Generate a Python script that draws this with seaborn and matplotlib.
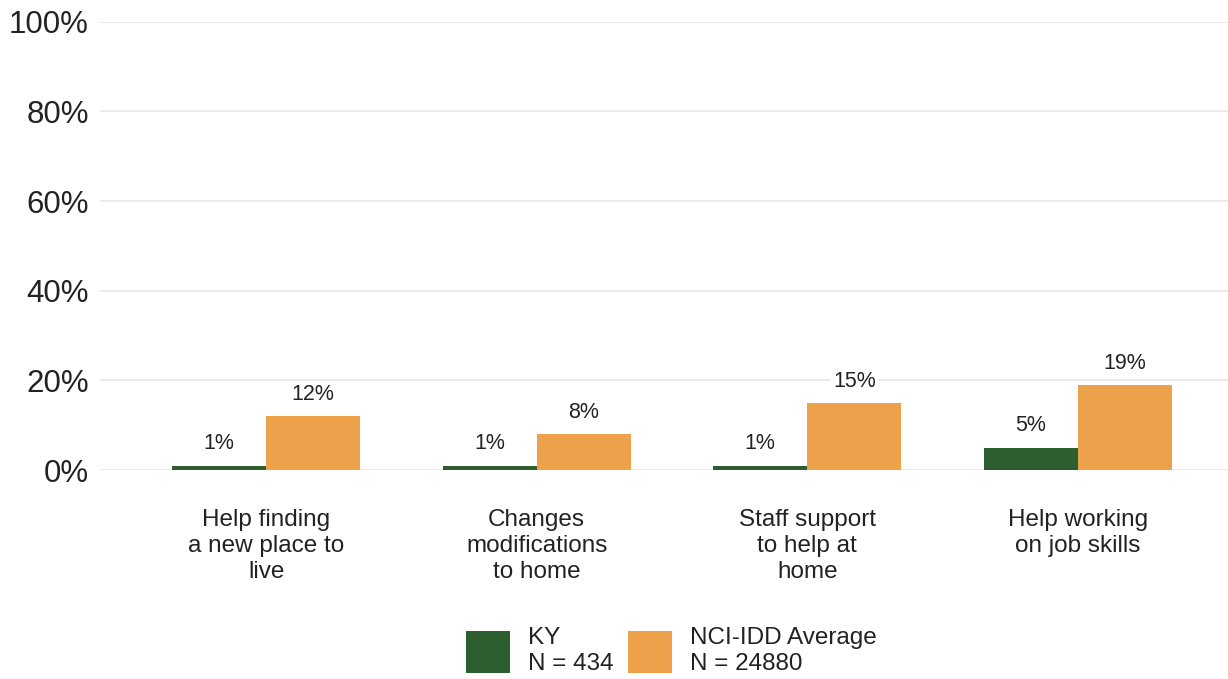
import pandas as pd
import matplotlib.pyplot as plt
import seaborn as sns

categories = ['Help finding\na new place to\nlive', 'Changes\nmodifications\nto home',
              'Staff support\nto help at\nhome', 'Help working\non job skills']
ky_values = [1, 1, 1, 5]
nci_values = [12, 8, 15, 19]
series_names = ['KY\nN = 434', 'NCI-IDD Average\nN = 24880']
colors = ['#2d5e30', '#eca14a']
yticks = [0, 20, 40, 60, 80, 100]

sns.set_theme(style='white')
plt.rcParams['font.family'] = ['Liberation Sans', 'DejaVu Sans']

df = pd.DataFrame({
    'category': categories * 2,
    'value': ky_values + nci_values,
    'group': [series_names[0]] * len(categories) + [series_names[1]] * len(categories),
})

fig = plt.figure(figsize=(12.28, 6.79), dpi=100)
ax = fig.add_axes([0.0814, 0.3078, 0.9186, 0.66])
sns.barplot(data=df, x='category', y='value', hue='group', palette=colors,
            width=0.695, saturation=1, linewidth=0, ax=ax)

for cont in ax.containers:
    ax.bar_label(cont, labels=[f'{v:.0f}%' for v in cont.datavalues], padding=8,
                 fontsize=15.5, color='#222222',
                 bbox=dict(facecolor='white', edgecolor='none', pad=2))

ax.set_xlim(-0.614, 3.555)
ax.set_ylim(0, 100)
ax.set_yticks(yticks)
ax.set_yticklabels([f'{t}%' for t in yticks], fontsize=22.5, color='#222222')
ax.set_xticks(range(len(categories)))
ax.set_xticklabels(categories, fontsize=17.5, color='#222222', linespacing=1.25)
ax.tick_params(axis='x', length=0, pad=28)
ax.tick_params(axis='y', length=0, pad=8)
ax.set_xlabel('')
ax.set_ylabel('')
ax.yaxis.grid(True, color='#e6e6e6', lw=1.2)
ax.set_axisbelow(True)
sns.despine(left=True, bottom=True)

handles, labels = ax.get_legend_handles_labels()
ax.get_legend().remove()
fig.legend(handles, labels, loc='center', bbox_to_anchor=(0.547, 0.041), ncol=2,
           frameon=False, fontsize=17.5, handlelength=1.8, handleheight=2.25,
           handletextpad=0.75, columnspacing=0.6, labelcolor='#222222')

fig.savefig('out.png', dpi=100)
